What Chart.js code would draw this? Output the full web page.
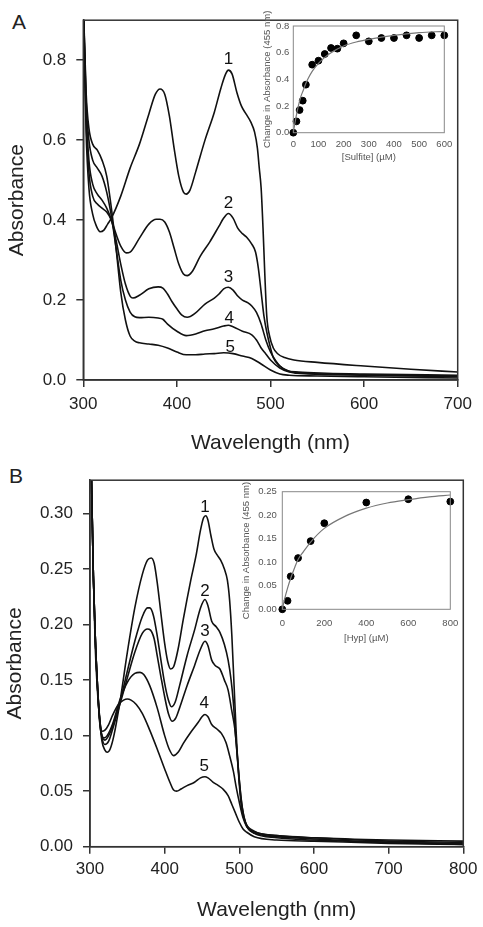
<!DOCTYPE html>
<html lang="en">
<head>
<meta charset="UTF-8">
<title>Absorbance spectra</title>
<script src="https://cdn.jsdelivr.net/npm/chart.js"></script>
<style>
    html, body { margin: 0; padding: 0; background: #fff; }
    body { width: 483px; height: 927px; position: relative; overflow: hidden; font-family: 'Liberation Sans', Arial, sans-serif; }
    canvas { position: absolute; }
    .panel-label { position: absolute; font-size: 21px; line-height: 21px; color: #222; }
</style>
</head>
<body>
<div class="panel-label" style="left:12px;top:11px">A</div>
<div class="panel-label" style="left:9px;top:465px">B</div>
<canvas id="mainA" width="483" height="460" style="left:0;top:0"></canvas>
<canvas id="insetA" width="240" height="170" style="left:230px;top:0"></canvas>
<canvas id="mainB" width="483" height="467" style="left:0;top:460px"></canvas>
<canvas id="insetB" width="263" height="180" style="left:220px;top:470px"></canvas>

<script>
// ---- Panel A: spectra (sulfite titration) ----
const a1Nm  = [300, 303, 306, 310, 314, 318, 322, 326, 330, 340, 350, 360, 370, 377, 382, 387, 392, 397, 402, 407, 410, 414, 420, 430, 440, 447, 452, 455, 459, 464, 469, 474, 479, 483, 486, 488, 490, 492, 494, 496, 499, 503, 508, 515, 525, 550, 600, 650, 700];
const a1Abs = [0.95, 0.62, 0.48, 0.415, 0.385, 0.371, 0.375, 0.39, 0.405, 0.46, 0.53, 0.59, 0.665, 0.715, 0.728, 0.715, 0.66, 0.58, 0.51, 0.47, 0.465, 0.475, 0.52, 0.60, 0.67, 0.73, 0.765, 0.775, 0.765, 0.72, 0.685, 0.665, 0.645, 0.62, 0.58, 0.53, 0.48, 0.38, 0.26, 0.16, 0.11, 0.08, 0.065, 0.056, 0.05, 0.044, 0.035, 0.027, 0.02];

const a2Nm  = [300, 303, 306, 310, 315, 320, 325, 330, 335, 340, 346, 350, 360, 370, 378, 382, 387, 392, 397, 402, 407, 411, 416, 425, 435, 445, 450, 455, 460, 465, 470, 475, 480, 484, 487, 490, 493, 496, 500, 503, 510, 517, 530, 560, 600, 700];
const a2Abs = [0.95, 0.65, 0.52, 0.46, 0.44, 0.43, 0.42, 0.40, 0.365, 0.335, 0.318, 0.32, 0.355, 0.39, 0.402, 0.402, 0.395, 0.37, 0.33, 0.29, 0.265, 0.261, 0.27, 0.31, 0.345, 0.385, 0.405, 0.4165, 0.405, 0.38, 0.366, 0.356, 0.34, 0.32, 0.28, 0.22, 0.16, 0.12, 0.08, 0.056, 0.035, 0.024, 0.02, 0.017, 0.015, 0.012];

const a3Nm  = [300, 303, 306, 310, 315, 320, 325, 330, 335, 340, 345, 350, 353, 360, 370, 380, 385, 390, 395, 400, 405, 411, 420, 430, 440, 445, 450, 455, 460, 465, 470, 476, 480, 485, 490, 495, 500, 505, 510, 520, 540, 600, 700];
const a3Abs = [0.95, 0.68, 0.55, 0.49, 0.465, 0.45, 0.43, 0.40, 0.35, 0.29, 0.24, 0.21, 0.205, 0.212, 0.228, 0.233, 0.23, 0.215, 0.195, 0.178, 0.163, 0.157, 0.168, 0.19, 0.205, 0.215, 0.228, 0.232, 0.225, 0.21, 0.20, 0.193, 0.185, 0.169, 0.14, 0.10, 0.07, 0.05, 0.035, 0.022, 0.017, 0.013, 0.01];

const a4Nm  = [300, 303, 306, 310, 315, 320, 325, 330, 335, 340, 345, 350, 355, 360, 370, 380, 385, 390, 400, 410, 420, 430, 440, 450, 455, 460, 470, 480, 485, 490, 495, 500, 510, 520, 540, 600, 700];
const a4Abs = [0.95, 0.70, 0.60, 0.55, 0.53, 0.51, 0.47, 0.41, 0.33, 0.25, 0.20, 0.17, 0.158, 0.156, 0.157, 0.155, 0.152, 0.14, 0.122, 0.111, 0.115, 0.123, 0.128, 0.135, 0.137, 0.133, 0.122, 0.113, 0.10, 0.08, 0.065, 0.05, 0.03, 0.02, 0.015, 0.012, 0.008];

const a5Nm  = [300, 303, 306, 310, 315, 320, 325, 330, 335, 340, 345, 350, 355, 360, 370, 380, 390, 400, 410, 420, 430, 440, 450, 460, 470, 480, 490, 500, 510, 520, 550, 600, 700];
const a5Abs = [0.95, 0.72, 0.63, 0.59, 0.575, 0.55, 0.51, 0.43, 0.33, 0.22, 0.15, 0.11, 0.097, 0.093, 0.09, 0.087, 0.08, 0.07, 0.063, 0.063, 0.065, 0.066, 0.068, 0.066, 0.06, 0.054, 0.04, 0.025, 0.015, 0.012, 0.01, 0.008, 0.005];

// inset A: change in absorbance at 455 nm vs [sulfite]
const sulfiteUM  = [0, 12.5, 25, 37.5, 50, 75, 100, 125, 150, 175, 200, 250, 300, 350, 400, 450, 500, 550, 600];
const sulfiteDA  = [0, 0.085, 0.17, 0.24, 0.36, 0.51, 0.54, 0.59, 0.635, 0.63, 0.67, 0.73, 0.685, 0.71, 0.71, 0.73, 0.71, 0.73, 0.73];
const sulfiteFitX = [0, 10, 20, 30, 40, 50, 60, 75, 100, 125, 150, 200, 250, 300, 400, 500, 600];
const sulfiteFitY = [0, 0.11, 0.20, 0.27, 0.32, 0.37, 0.41, 0.46, 0.52, 0.565, 0.60, 0.65, 0.68, 0.70, 0.73, 0.75, 0.76];

// ---- Panel B: spectra (Hyp titration) ----
const b1Nm  = [300, 302, 304.5, 307, 310, 313, 316, 320, 323, 327, 332, 340, 350, 360, 370, 377, 382, 386, 390, 395, 400, 404, 408, 412, 418, 425, 435, 442, 448, 452, 455, 458, 462, 466, 470, 475, 480, 484, 487, 490, 493, 496, 499, 503, 508, 520, 550, 600, 700, 800];
const b1Abs = [0.42, 0.33, 0.244, 0.19, 0.145, 0.115, 0.095, 0.087, 0.085, 0.088, 0.10, 0.13, 0.175, 0.215, 0.245, 0.258, 0.26, 0.255, 0.238, 0.21, 0.183, 0.167, 0.16, 0.162, 0.178, 0.205, 0.24, 0.262, 0.285, 0.296, 0.298, 0.294, 0.28, 0.268, 0.263, 0.258, 0.25, 0.24, 0.222, 0.19, 0.145, 0.10, 0.065, 0.035, 0.022, 0.014, 0.01, 0.008, 0.006, 0.005];

const b2Nm  = [300, 302, 304.5, 307, 310, 313, 316, 320, 325, 330, 340, 350, 360, 370, 377, 380, 385, 390, 395, 400, 405, 409, 414, 420, 430, 440, 448, 454, 458, 463, 469, 474, 480, 485, 489, 492, 495, 498, 502, 507, 515, 550, 600, 700, 800];
const b2Abs = [0.42, 0.33, 0.244, 0.19, 0.145, 0.115, 0.10, 0.096, 0.10, 0.108, 0.13, 0.158, 0.185, 0.207, 0.215, 0.215, 0.208, 0.19, 0.168, 0.147, 0.132, 0.126, 0.13, 0.145, 0.172, 0.195, 0.215, 0.2226, 0.217, 0.203, 0.198, 0.193, 0.182, 0.168, 0.15, 0.13, 0.10, 0.075, 0.045, 0.025, 0.015, 0.01, 0.008, 0.005, 0.004];

const b3Nm  = [300, 302, 304.5, 307, 310, 313, 316, 320, 325, 330, 340, 350, 360, 370, 377, 381, 386, 390, 395, 400, 405, 410, 415, 420, 430, 440, 448, 454, 458, 463, 468, 474, 480, 485, 490, 494, 497, 500, 504, 508, 515, 550, 600, 700, 800];
const b3Abs = [0.42, 0.33, 0.244, 0.19, 0.145, 0.113, 0.098, 0.092, 0.095, 0.105, 0.128, 0.152, 0.175, 0.192, 0.196, 0.195, 0.187, 0.172, 0.153, 0.135, 0.12, 0.113, 0.116, 0.125, 0.145, 0.163, 0.178, 0.185, 0.181, 0.168, 0.163, 0.16, 0.15, 0.141, 0.122, 0.106, 0.085, 0.06, 0.035, 0.022, 0.014, 0.009, 0.007, 0.004, 0.003];

const b4Nm  = [300, 302, 304.5, 307, 310, 313, 316, 319, 323, 330, 340, 350, 360, 367, 372, 380, 390, 400, 406, 412, 418, 425, 435, 445, 450, 454, 458, 463, 470, 476, 482, 487, 492, 496, 500, 505, 510, 520, 550, 600, 700, 800];
const b4Abs = [0.42, 0.33, 0.244, 0.19, 0.145, 0.112, 0.10, 0.098, 0.10, 0.11, 0.132, 0.148, 0.156, 0.157, 0.155, 0.145, 0.125, 0.10, 0.088, 0.082, 0.085, 0.093, 0.103, 0.112, 0.117, 0.119, 0.117, 0.11, 0.106, 0.102, 0.094, 0.082, 0.068, 0.053, 0.04, 0.026, 0.018, 0.012, 0.008, 0.006, 0.004, 0.002];

const b5Nm  = [300, 302, 304.5, 307, 310, 313, 316, 320, 325, 330, 338, 345, 350, 355, 362, 370, 380, 390, 400, 407, 412, 416, 422, 430, 440, 448, 454, 458, 465, 472, 478, 485, 490, 495, 500, 505, 510, 520, 550, 600, 700, 800];
const b5Abs = [0.42, 0.33, 0.244, 0.18, 0.14, 0.115, 0.104, 0.105, 0.11, 0.118, 0.128, 0.132, 0.133, 0.132, 0.128, 0.12, 0.105, 0.088, 0.07, 0.058, 0.051, 0.05, 0.052, 0.055, 0.058, 0.062, 0.063, 0.062, 0.058, 0.055, 0.052, 0.046, 0.038, 0.03, 0.022, 0.016, 0.013, 0.009, 0.006, 0.005, 0.003, 0.002];

// inset B: change in absorbance at 455 nm vs [Hyp]
const hypUM  = [0, 25, 40, 75, 135, 200, 400, 600, 800];
const hypDA  = [0, 0.018, 0.07, 0.109, 0.145, 0.183, 0.227, 0.234, 0.229];
const hypFitX = [0, 10, 25, 40, 60, 75, 100, 135, 200, 300, 400, 500, 600, 700, 800];
const hypFitY = [0, 0.02, 0.045, 0.066, 0.09, 0.106, 0.122, 0.143, 0.172, 0.198, 0.215, 0.226, 0.233, 0.239, 0.243];

// curve number labels, placed in data units
const labelsA = [['1', 455, 0.802], ['2', 455, 0.441], ['3', 455, 0.256], ['4', 456, 0.154], ['5', 457, 0.082]];
const labelsB = [['1', 454, 0.306], ['2', 454, 0.230], ['3', 454, 0.194], ['4', 453, 0.129], ['5', 453, 0.072]];

Chart.defaults.font.family = "'Liberation Sans', Arial, sans-serif";

const pts = (xs, ys) => xs.map((x, i) => ({ x: x, y: ys[i] }));

// draws the full box round the plot area
const framePlugin = {
    id: 'frame',
    afterDraw(chart, args, opts) {
        const a = chart.chartArea, ctx = chart.ctx;
        ctx.save();
        ctx.strokeStyle = opts.color;
        ctx.lineWidth = opts.width;
        ctx.strokeRect(a.left, a.top, a.right - a.left, a.bottom - a.top);
        ctx.restore();
    }
};

const curveLabelPlugin = {
    id: 'curveLabels',
    afterDatasetsDraw(chart, args, opts) {
        if (!opts.items) return;
        const ctx = chart.ctx;
        ctx.save();
        ctx.font = '17px "Liberation Sans", Arial, sans-serif';
        ctx.fillStyle = '#111';
        ctx.textAlign = 'center';
        ctx.textBaseline = 'middle';
        opts.items.forEach(([t, x, y]) => {
            ctx.fillText(t, chart.scales.x.getPixelForValue(x), chart.scales.y.getPixelForValue(y));
        });
        ctx.restore();
    }
};

function spectrumSet(xs, ys) {
    return {
        data: pts(xs, ys),
        borderColor: '#111',
        borderWidth: 1.6,
        pointRadius: 0,
        cubicInterpolationMode: 'monotone',
        fill: false
    };
}

function mainChart(id, sets, c) {
    return new Chart(document.getElementById(id), {
        type: 'line',
        data: { datasets: sets.map(s => spectrumSet(s[0], s[1])) },
        options: {
            responsive: false,
            animation: false,
            layout: { padding: c.padding },
            plugins: {
                legend: { display: false },
                tooltip: { enabled: false },
                frame: { color: '#333', width: 1.5 },
                curveLabels: { items: c.labels }
            },
            scales: {
                x: {
                    type: 'linear', min: c.xMin, max: c.xMax,
                    ticks: { stepSize: 100, padding: c.xTickPad, color: '#222', font: { size: 17 } },
                    grid: { display: true, drawOnChartArea: false, tickLength: 7, color: '#333', lineWidth: 1.5 },
                    border: { color: '#333', width: 1.5 },
                    title: { display: true, text: 'Wavelength (nm)', color: '#222', font: { size: 21 }, padding: { top: 0, bottom: 4 } },
                    afterFit: s => { s.height = c.xHeight; }
                },
                y: {
                    min: 0, max: c.yMax,
                    ticks: { stepSize: c.yStep, includeBounds: false, padding: 10, color: '#222', font: { size: 17 },
                             callback: v => v.toFixed(c.yDec) },
                    grid: { display: true, drawOnChartArea: false, tickLength: 7, color: '#333', lineWidth: 1.5 },
                    border: { color: '#333', width: 1.5 },
                    title: { display: true, text: 'Absorbance', color: '#222', font: { size: 21 }, padding: { top: c.yTitlePad, bottom: 0 } },
                    afterFit: s => { s.width = c.yWidth; }
                }
            }
        },
        plugins: [framePlugin, curveLabelPlugin]
    });
}

function insetChart(id, c) {
    return new Chart(document.getElementById(id), {
        type: 'scatter',
        data: {
            datasets: [
                { type: 'line', data: pts(c.fitX, c.fitY), borderColor: '#777', borderWidth: 1.2, pointRadius: 0,
                  cubicInterpolationMode: 'monotone', fill: false },
                { data: pts(c.x, c.y), backgroundColor: '#000', borderColor: '#000', pointRadius: 3.4, clip: false }
            ]
        },
        options: {
            responsive: false,
            animation: false,
            layout: { padding: c.padding },
            plugins: { legend: { display: false }, tooltip: { enabled: false }, frame: { color: '#888', width: 1 } },
            scales: {
                x: {
                    type: 'linear', min: 0, max: c.xMax,
                    ticks: { stepSize: c.xStep, padding: c.xTickPad, color: '#555', font: { size: 9.5 } },
                    grid: { display: false, drawTicks: false, tickLength: 0 },
                    border: { display: false },
                    title: { display: true, text: c.xTitle, color: '#555', font: { size: 9.5 }, padding: { top: 0, bottom: c.xTitlePad } },
                    afterFit: s => { s.height = c.xHeight; }
                },
                y: {
                    min: 0, max: c.yMax,
                    ticks: { stepSize: c.yStep, padding: c.yTickPad, color: '#555', font: { size: 9.5 },
                             callback: v => v.toFixed(c.yDec) },
                    grid: { display: false, drawTicks: false, tickLength: 0 },
                    border: { display: false },
                    title: { display: true, text: 'Change in Absorbance (455 nm)', color: '#555', font: { size: 9.5 }, padding: { top: c.yTitlePad, bottom: 0 } },
                    afterFit: s => { s.width = c.yWidth; }
                }
            }
        },
        plugins: [framePlugin]
    });
}

mainChart('mainA', [[a1Nm, a1Abs], [a2Nm, a2Abs], [a3Nm, a3Abs], [a4Nm, a4Abs], [a5Nm, a5Abs]], {
    padding: { left: 0, top: 7, right: 25.3, bottom: 0 },
    xMin: 300, xMax: 700, yMax: 0.9, yStep: 0.2, yDec: 1,
    xHeight: 80, yWidth: 83.3, xTickPad: 7, yTitlePad: 4.4, labels: labelsA
});

mainChart('mainB', [[b1Nm, b1Abs], [b2Nm, b2Abs], [b3Nm, b3Abs], [b4Nm, b4Abs], [b5Nm, b5Abs]], {
    padding: { left: 0, top: 12.3, right: 19.7, bottom: 0 },
    xMin: 300, xMax: 800, yMax: 0.33, yStep: 0.05, yDec: 2,
    xHeight: 80.3, yWidth: 90, xTickPad: 5, yTitlePad: 2.4, labels: labelsB
});

insetChart('insetA', {
    x: sulfiteUM, y: sulfiteDA, fitX: sulfiteFitX, fitY: sulfiteFitY,
    padding: { left: 0, top: 26, right: 25.7, bottom: 0 },
    xMax: 600, xStep: 100, yMax: 0.8, yStep: 0.2, yDec: 1,
    xTitle: '[Sulfite] (\u00b5M)', xHeight: 37.3, yWidth: 63.3,
    xTickPad: 6, yTickPad: 4, xTitlePad: 7.3, yTitlePad: 31.3
});

insetChart('insetB', {
    x: hypUM, y: hypDA, fitX: hypFitX, fitY: hypFitY,
    padding: { left: 0, top: 21.7, right: 32.7, bottom: 0 },
    xMax: 800, xStep: 200, yMax: 0.25, yStep: 0.05, yDec: 2,
    xTitle: '[Hyp] (\u00b5M)', xHeight: 40.7, yWidth: 62.3,
    xTickPad: 8, yTickPad: 5.6, xTitlePad: 6.3, yTitlePad: 21
});
</script>
</body>
</html>
